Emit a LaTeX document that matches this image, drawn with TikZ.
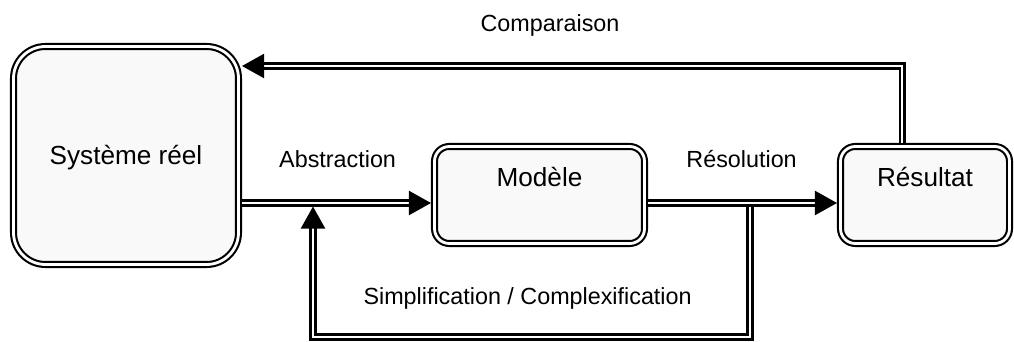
\documentclass[tikz,border=0pt]{standalone}
\usepackage{fontspec}
\setmainfont{Liberation Sans}
\usetikzlibrary{arrows.meta}

\begin{document}
\begin{tikzpicture}[
    boite/.style={draw, double, line width=1.5pt, double distance=2pt, fill=gray!5!white, rounded corners=#1, outer sep=2.5pt, text height=0.5cm, font=\fontsize{18.6}{22}\selectfont},
    lien/.style={double, line width=1.5pt, double distance=2pt},
    fleche/.style={lien, -{Triangle[length=0.55cm, width=0.6cm]}},
    etiquette/.style={anchor=base, font=\fontsize{16.6}{20}\selectfont}
  ]
    \useasboundingbox (0,0) rectangle (25.35,8.55);
    \node[boite=0.8cm, minimum width=5.625cm, minimum height=5.45cm, text depth=0.025cm] (systeme) at (3.15,4.6625) {Système réel};
    \node[boite=0.37cm, minimum width=5.25cm, minimum height=2.425cm, text depth=0.9cm] (modele) at (13.4875,3.675) {Modèle};
    \node[boite=0.37cm, minimum width=4.225cm, minimum height=2.425cm, text depth=0.9cm] (resultat) at (23.125,3.675) {Résultat};
    \node[etiquette] (comparaison) at (13.75,7.75) {Comparaison};
    \node[etiquette] (abstraction) at (8.44,4.35) {Abstraction};
    \node[etiquette] (resolution) at (18.54,4.35) {Résolution};
    \node[etiquette] (simplification) at (13.19,0.925) {Simplification / Complexification};
    \coordinate (entree) at ([yshift=-0.2cm]modele.west);
    \coordinate (sortie) at ([yshift=-0.2cm]modele.east);
    \coordinate (retour) at (0,6.9);
    \coordinate (bas) at (0,0.125);
    \coordinate (bifurcation) at (18.75,3.387);
    \coordinate (jonction) at (7.825,3.387);
    \draw[fleche] (systeme.east |- entree) -- (entree);
    \draw[fleche] (sortie) -- (resultat.west |- sortie);
    \draw[fleche] ([xshift=-0.575cm]resultat.north) |- (systeme.east |- retour);
    \draw[fleche] (bifurcation) -- (bifurcation |- bas) -| (jonction);
  \end{tikzpicture}
\end{document}
